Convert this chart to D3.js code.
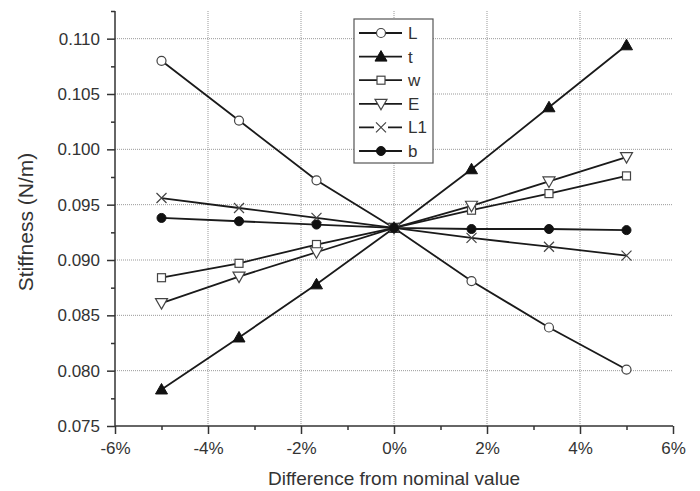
<!DOCTYPE html>
<html>
<head>
<meta charset="utf-8">
<script src="https://cdn.jsdelivr.net/npm/d3@7"></script>
<style>
  body { margin: 0; background: #fff; }
  text { font-family: "Liberation Sans", Arial, sans-serif; fill: #333; }
</style>
</head>
<body>
<svg width="700" height="491"></svg>
<script>
// data
var xPct = [-5, -3.333, -1.667, 0, 1.667, 3.333, 5];
var seriesNames = ["L", "t", "w", "E", "L1", "b"];
var valL  = [0.1080, 0.1026, 0.0972, 0.0929, 0.0881, 0.0839, 0.0801];
var valT  = [0.0783, 0.0830, 0.0878, 0.0929, 0.0982, 0.1038, 0.1094];
var valW  = [0.0884, 0.0897, 0.0914, 0.0929, 0.0945, 0.0960, 0.0976];
var valE  = [0.0861, 0.0885, 0.0907, 0.0929, 0.0949, 0.0971, 0.0993];
var valL1 = [0.0956, 0.0947, 0.0938, 0.0929, 0.0920, 0.0912, 0.0904];
var valB  = [0.0938, 0.0935, 0.0932, 0.0929, 0.0928, 0.0928, 0.0927];
var xTicks = [-6, -4, -2, 0, 2, 4, 6];
var yTicks = [0.075, 0.080, 0.085, 0.090, 0.095, 0.100, 0.105, 0.110];

var allVals = [valL, valT, valW, valE, valL1, valB];
var markers = ["circle", "triUp", "square", "triDown", "cross", "dot"];

var svg = d3.select("svg");
// plot box (note: "top" is reserved on window, so use pTop etc.)
var pLeft = 115, pRight = 673, pTop = 11, pBottom = 426;

var x = d3.scaleLinear().domain([-6, 6]).range([pLeft, pRight]);
var y = d3.scaleLinear().domain([0.075, 0.1125]).range([pBottom, pTop]);

// grid (dotted)
var grid = svg.append("g");
xTicks.slice(1, -1).forEach(function(t) {
    grid.append("line")
        .attr("x1", x(t)).attr("x2", x(t))
        .attr("y1", pTop).attr("y2", pBottom)
        .attr("stroke", "#999").attr("stroke-width", 1)
        .attr("stroke-dasharray", "1,1");
});
yTicks.slice(1).forEach(function(t) {
    grid.append("line")
        .attr("x1", pLeft).attr("x2", pRight)
        .attr("y1", y(t)).attr("y2", y(t))
        .attr("stroke", "#999").attr("stroke-width", 1)
        .attr("stroke-dasharray", "1,1");
});

// axes
var xAxis = d3.axisBottom(x).tickValues(xTicks).tickSize(8).tickPadding(8)
    .tickFormat(function(d) { return d + "%"; });
var gx = svg.append("g").attr("transform", "translate(0," + pBottom + ")").call(xAxis);
var xMinor = d3.axisBottom(x).tickValues(d3.range(-5, 6, 2)).tickSize(4).tickFormat("");
svg.append("g").attr("transform", "translate(0," + pBottom + ")").call(xMinor)
    .select(".domain").remove();

var yAxis = d3.axisLeft(y).tickValues(yTicks).tickSize(8).tickPadding(7)
    .tickFormat(d3.format(".3f"));
var gy = svg.append("g").attr("transform", "translate(" + pLeft + ",0)").call(yAxis);
var yMinor = d3.axisLeft(y).tickValues(d3.range(0.0775, 0.1126, 0.005)).tickSize(4).tickFormat("");
svg.append("g").attr("transform", "translate(" + pLeft + ",0)").call(yMinor)
    .select(".domain").remove();

svg.selectAll(".domain, .tick line").attr("stroke", "#333").attr("stroke-width", 1.5);
svg.selectAll(".tick text").style("font-size", "17px").attr("fill", "#333")
    .style("font-family", "Liberation Sans, Arial, sans-serif");
gx.select(".domain").attr("d", "M" + pLeft + ",0H" + pRight);
gy.select(".domain").attr("d", "M0," + pBottom + "V" + pTop);

// axis titles
svg.append("text")
    .attr("x", 394).attr("y", 485)
    .attr("text-anchor", "middle")
    .style("font-size", "19px")
    .text("Difference from nominal value");
svg.append("text")
    .attr("transform", "translate(33,222) rotate(-90)")
    .attr("text-anchor", "middle")
    .style("font-size", "21px")
    .text("Stiffness (N/m)");

// marker drawing
function drawMarker(g, type, cx, cy) {
    if (type === "circle") {
        g.append("circle").attr("cx", cx).attr("cy", cy).attr("r", 4.5)
            .attr("fill", "#fff").attr("stroke", "#444").attr("stroke-width", 1.2);
    } else if (type === "dot") {
        g.append("circle").attr("cx", cx).attr("cy", cy).attr("r", 4.5)
            .attr("fill", "#111").attr("stroke", "#111");
    } else if (type === "square") {
        g.append("rect").attr("x", cx - 4).attr("y", cy - 4)
            .attr("width", 8).attr("height", 8)
            .attr("fill", "#fff").attr("stroke", "#444").attr("stroke-width", 1.2);
    } else if (type === "triUp") {
        g.append("path")
            .attr("d", "M" + cx + "," + (cy - 6) + "L" + (cx + 6) + "," + (cy + 4.5) + "L" + (cx - 6) + "," + (cy + 4.5) + "Z")
            .attr("fill", "#111").attr("stroke", "#111");
    } else if (type === "triDown") {
        g.append("path")
            .attr("d", "M" + cx + "," + (cy + 6) + "L" + (cx + 6) + "," + (cy - 4.5) + "L" + (cx - 6) + "," + (cy - 4.5) + "Z")
            .attr("fill", "#fff").attr("stroke", "#444").attr("stroke-width", 1.2);
    } else if (type === "cross") {
        g.append("path")
            .attr("d", "M" + (cx - 5) + "," + (cy - 5) + "L" + (cx + 5) + "," + (cy + 5) +
                       "M" + (cx - 5) + "," + (cy + 5) + "L" + (cx + 5) + "," + (cy - 5))
            .attr("fill", "none").attr("stroke", "#444").attr("stroke-width", 1.2);
    }
}

// series
var line = d3.line()
    .x(function(d, i) { return x(xPct[i]); })
    .y(function(d) { return y(d); });

allVals.forEach(function(vals) {
    svg.append("path")
        .attr("d", line(vals))
        .attr("fill", "none")
        .attr("stroke", "#1a1a1a")
        .attr("stroke-width", 1.8);
});
allVals.forEach(function(vals, s) {
    var g = svg.append("g");
    vals.forEach(function(v, i) {
        drawMarker(g, markers[s], x(xPct[i]), y(v));
    });
});

// legend
var lg = svg.append("g");
lg.append("rect")
    .attr("x", 354).attr("y", 19).attr("width", 79).attr("height", 144)
    .attr("fill", "#fff").attr("stroke", "#555").attr("stroke-width", 1.2);
seriesNames.forEach(function(name, i) {
    var ly = 33 + i * 23.6;
    lg.append("line")
        .attr("x1", 359).attr("x2", 402).attr("y1", ly).attr("y2", ly)
        .attr("stroke", "#1a1a1a").attr("stroke-width", 1.8);
    var mg = lg.append("g");
    if (markers[i] === "cross") {
        mg.append("rect").attr("x", 374).attr("y", ly - 6).attr("width", 14).attr("height", 12).attr("fill", "#fff");
    }
    drawMarker(mg, markers[i], 381, ly);
    lg.append("text")
        .attr("x", 408).attr("y", ly + 6)
        .style("font-size", "17px")
        .text(name);
});
</script>
</body>
</html>
